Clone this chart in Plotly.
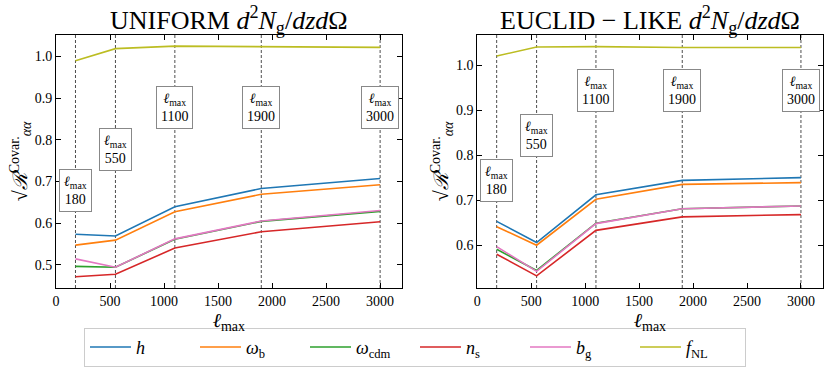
import plotly.graph_objects as go
from plotly.subplots import make_subplots

ell = [180, 550, 1100, 1900, 3000]
ell_labels = ['180', '550', '1100', '1900', '3000']

params = ['h', 'omega_b', 'omega_cdm', 'n_s', 'b_g', 'f_NL']
names = ['<i>h</i>', '<i>ω</i><sub>b</sub>', '<i>ω</i><sub>cdm</sub>',
         '<i>n</i><sub>s</sub>', '<i>b</i><sub>g</sub>', '<i>f</i><sub>NL</sub>']
colors = ['#1f77b4', '#ff7f0e', '#2ca02c', '#d62728', '#e377c2', '#bcbd22']

uniform_h = [0.573, 0.569, 0.639, 0.683, 0.707]
uniform_wb = [0.547, 0.559, 0.627, 0.669, 0.692]
uniform_wcdm = [0.496, 0.494, 0.561, 0.604, 0.628]
uniform_ns = [0.471, 0.477, 0.540, 0.579, 0.603]
uniform_bg = [0.514, 0.494, 0.562, 0.605, 0.630]
uniform_fnl = [0.990, 1.019, 1.025, 1.023, 1.022]

euclid_h = [0.653, 0.606, 0.712, 0.744, 0.750]
euclid_wb = [0.641, 0.600, 0.702, 0.735, 0.739]
euclid_wcdm = [0.591, 0.544, 0.649, 0.681, 0.687]
euclid_ns = [0.580, 0.532, 0.633, 0.663, 0.668]
euclid_bg = [0.597, 0.542, 0.648, 0.681, 0.687]
euclid_fnl = [1.020, 1.040, 1.041, 1.039, 1.039]

uniform = [uniform_h, uniform_wb, uniform_wcdm, uniform_ns, uniform_bg, uniform_fnl]
euclid = [euclid_h, euclid_wb, euclid_wcdm, euclid_ns, euclid_bg, euclid_fnl]

# y position of the l_max label boxes
box_y_uniform = [0.678, 0.777, 0.877, 0.877, 0.877]
box_y_euclid = [0.744, 0.844, 0.944, 0.944, 0.944]

FONT = 'Liberation Serif, serif'

fig = make_subplots(rows=1, cols=2)

for col, data in [(1, uniform), (2, euclid)]:
    for i in range(len(params)):
        fig.add_trace(go.Scatter(x=ell, y=data[i], mode='lines', name=names[i],
                                 line=dict(color=colors[i], width=1.6),
                                 showlegend=(col == 1)), row=1, col=col)

for col, xr, yr in [(1, 'x', 'y'), (2, 'x2', 'y2')]:
    for l in ell:
        fig.add_shape(type='line', x0=l, x1=l, y0=0, y1=1, xref=xr, yref=yr + ' domain',
                      line=dict(color='black', width=0.7, dash='3px,2px'), layer='below')

for xr, yr, ys in [('x', 'y', box_y_uniform), ('x2', 'y2', box_y_euclid)]:
    for l, lab, yy in zip(ell, ell_labels, ys):
        fig.add_annotation(x=l, y=yy, xref=xr, yref=yr, showarrow=False,
                           text='<i>ℓ</i><sub>max</sub><br>' + lab,
                           font=dict(family=FONT, size=14, color='black'),
                           bgcolor='white', bordercolor='#888888', borderwidth=1,
                           borderpad=4, align='center', xanchor='center', yanchor='middle')

axis_style = dict(showline=True, linecolor='black', linewidth=1, mirror='allticks',
                  ticks='inside', ticklen=5, tickcolor='black', showgrid=False,
                  zeroline=False, automargin=False,
                  tickfont=dict(family=FONT, size=14, color='black'))

fig.update_xaxes(range=[0, 3200], tickvals=[0, 500, 1000, 1500, 2000, 2500, 3000], **axis_style)
fig.update_yaxes(**axis_style)
fig.update_xaxes(title=dict(text='<i>ℓ</i><sub>max</sub>', font=dict(family=FONT, size=20), standoff=0))
fig.update_yaxes(title=dict(text='√<i>ℛ</i><sup>Covar.</sup><sub><i>αα</i></sub>',
                            font=dict(family=FONT, size=20), standoff=1))

fig.update_layout(
    width=830, height=375,
    margin=dict(l=0, r=0, t=0, b=0),
    plot_bgcolor='white', paper_bgcolor='white',
    font=dict(family=FONT, color='black'),
    xaxis=dict(domain=[0.0675, 0.484]),
    xaxis2=dict(domain=[0.575, 0.991]),
    yaxis=dict(domain=[0.232, 0.907], range=[0.444, 1.052],
               tickvals=[0.5, 0.6, 0.7, 0.8, 0.9, 1.0], ticktext=['0.5', '0.6', '0.7', '0.8', '0.9', '1.0']),
    yaxis2=dict(domain=[0.232, 0.907], range=[0.505, 1.067],
                tickvals=[0.6, 0.7, 0.8, 0.9, 1.0], ticktext=['0.6', '0.7', '0.8', '0.9', '1.0']),
    legend=dict(orientation='h', x=0.5, xanchor='center', y=0.074, yanchor='middle',
                entrywidth=54, entrywidthmode='pixels', itemwidth=41,
                bgcolor='white', bordercolor='#cccccc', borderwidth=1,
                font=dict(family=FONT, size=18, color='black')),
)

fig.add_annotation(x=0.276, y=1.0, xref='paper', yref='paper', xanchor='center', yanchor='top',
                   showarrow=False,
                   text='UNIFORM <i>d</i><sup>2</sup><i>N</i><sub>g</sub>/<i>dzd</i>Ω',
                   font=dict(family=FONT, size=26, color='black'))
fig.add_annotation(x=0.783, y=1.0, xref='paper', yref='paper', xanchor='center', yanchor='top',
                   showarrow=False,
                   text='EUCLID − LIKE <i>d</i><sup>2</sup><i>N</i><sub>g</sub>/<i>dzd</i>Ω',
                   font=dict(family=FONT, size=26, color='black'))

# drop the default page margin so the figure sits at the top-left corner
fig.write_html('out.html', config={'displayModeBar': False},
               post_script="document.body.style.margin='0px';")
